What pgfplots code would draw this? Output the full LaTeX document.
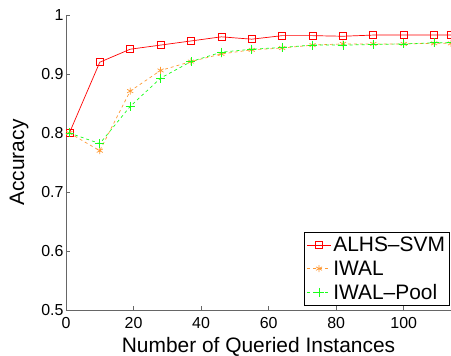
\documentclass[border=0pt]{standalone}
\usepackage{pgfplots}
\pgfplotsset{compat=1.18}
\usepackage{fontspec}
\setmainfont{Liberation Sans}
\definecolor{cRed}{rgb}{1,0,0}
\definecolor{cOrange}{rgb}{1,0.6,0.2}
\definecolor{cGreen}{rgb}{0.1,1,0.1}
\begin{document}
\begin{tikzpicture}
\begin{axis}[
  scale only axis,
  width=385bp, height=295bp,
  xmin=0, xmax=114, ymin=0.5, ymax=1,
  axis x line*=bottom, axis y line*=left,
  axis line style={draw=black!60, line width=0.8pt},
  xtick={0,20,40,60,80,100},
  ytick={0.5,0.6,0.7,0.8,0.9,1},
  yticklabels={0.5,0.6,0.7,0.8,0.9,1},
  tick align=inside,
  major tick length=4bp,
  tick style={black!60, line width=0.6pt},
  /pgf/number format/assume math mode=true,
  ticklabel style={font=\fontsize{16}{19}\selectfont},
  xticklabel style={yshift=-6bp, inner sep=1pt},
  yticklabel style={xshift=1bp},
  xlabel={Number of Queried Instances},
  ylabel={Accuracy},
  label style={font=\fontsize{21}{24}\selectfont},
  xlabel style={yshift=-7bp, inner sep=0.5pt},
  ylabel style={yshift=6bp},
  clip marker paths=true,
  legend style={font=\fontsize{21}{24}\selectfont, draw=black, line width=0.8pt, at={(0.997,0.015)}, anchor=south east, inner sep=2.5pt, row sep=3.5pt, /tikz/every even column/.append style={column sep=0pt}},
  legend cell align=left,
  legend image code/.code={\draw[mark repeat=2, mark phase=2, #1] plot coordinates {(0cm,0cm) (0.42cm,0cm) (0.84cm,0cm)};},
  legend image post style={line width=0.8pt},
]
\addplot[color=cRed, line width=0.7pt, mark=square, mark size=3.5bp, mark options={solid, line width=0.7pt}] coordinates {
(1,0.800) (10,0.920) (19,0.942) (28,0.949) (37,0.956) (46,0.963) (55,0.959) (64,0.965) (73,0.965) (82,0.964) (91,0.966) (100,0.966) (109,0.966) (114,0.966)};
\addlegendentry{ALHS–SVM}
\addplot[color=cOrange, line width=0.7pt, dashed, mark=asterisk, mark size=3.5bp, mark options={solid, line width=0.7pt}] coordinates {
(1,0.800) (10,0.770) (19,0.871) (28,0.906) (37,0.921) (46,0.934) (55,0.941) (64,0.944) (73,0.949) (82,0.951) (91,0.951) (100,0.951) (109,0.952) (114,0.952)};
\addlegendentry{IWAL}
\addplot[color=cGreen, line width=0.7pt, dashed, mark=+, mark size=4.5bp, mark options={solid, line width=0.8pt}] coordinates {
(1,0.800) (10,0.782) (19,0.845) (28,0.893) (37,0.921) (46,0.937) (55,0.942) (64,0.945) (73,0.949) (82,0.949) (91,0.950) (100,0.951) (109,0.953) (114,0.953)};
\addlegendentry{IWAL–Pool}
\end{axis}
\pgfresetboundingbox
\path ([xshift=-66bp,yshift=-46bp]current axis.south west) rectangle ([yshift=15bp]current axis.north east);
\end{tikzpicture}
\end{document}
